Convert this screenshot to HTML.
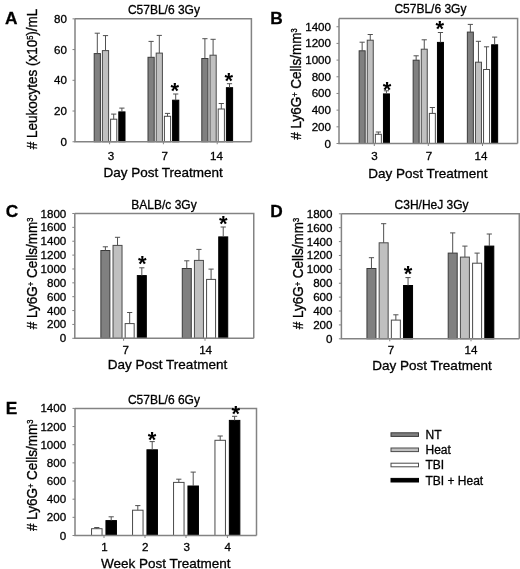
<!DOCTYPE html>
<html><head><meta charset="utf-8"><style>
html,body{margin:0;padding:0;background:#fff;}
svg{display:block;filter:grayscale(1) ;}
text{font-family:"Liberation Sans", sans-serif;fill:#000;stroke:#000;stroke-width:0.3px;}
</style></head><body>
<svg width="520" height="569" viewBox="0 0 520 569">
<rect width="520" height="569" fill="#fff"/>
<path d="M75,18.85H251.4V141.75" fill="none" stroke="#838383" stroke-width="1.5"/>
<rect x="94.20" y="53.60" width="6.20" height="88.15" fill="#808080" stroke="#3a3a3a" stroke-width="1"/>
<path d="M97.30,53.60V33.20M94.70,33.20H99.90" stroke="#505050" stroke-width="1" fill="none"/>
<rect x="102.40" y="50.60" width="6.20" height="91.15" fill="#c0c0c0" stroke="#4a4a4a" stroke-width="1"/>
<path d="M105.50,50.60V35.60M102.90,35.60H108.10" stroke="#505050" stroke-width="1" fill="none"/>
<rect x="110.60" y="119.20" width="6.20" height="22.55" fill="#ffffff" stroke="#4a4a4a" stroke-width="1"/>
<path d="M113.70,119.20V114.10M111.10,114.10H116.30" stroke="#505050" stroke-width="1" fill="none"/>
<rect x="118.80" y="111.90" width="6.20" height="29.85" fill="#000000" stroke="#000000" stroke-width="1"/>
<path d="M121.90,111.90V108.10M119.30,108.10H124.50" stroke="#505050" stroke-width="1" fill="none"/>
<rect x="148.00" y="57.30" width="6.20" height="84.45" fill="#808080" stroke="#3a3a3a" stroke-width="1"/>
<path d="M151.10,57.30V41.40M148.50,41.40H153.70" stroke="#505050" stroke-width="1" fill="none"/>
<rect x="156.20" y="53.10" width="6.20" height="88.65" fill="#c0c0c0" stroke="#4a4a4a" stroke-width="1"/>
<path d="M159.30,53.10V35.40M156.70,35.40H161.90" stroke="#505050" stroke-width="1" fill="none"/>
<rect x="164.40" y="116.30" width="6.20" height="25.45" fill="#ffffff" stroke="#4a4a4a" stroke-width="1"/>
<path d="M167.50,116.30V113.40M164.90,113.40H170.10" stroke="#505050" stroke-width="1" fill="none"/>
<rect x="172.60" y="100.20" width="6.20" height="41.55" fill="#000000" stroke="#000000" stroke-width="1"/>
<path d="M175.70,100.20V94.00M173.10,94.00H178.30" stroke="#505050" stroke-width="1" fill="none"/>
<rect x="201.80" y="58.50" width="6.20" height="83.25" fill="#808080" stroke="#3a3a3a" stroke-width="1"/>
<path d="M204.90,58.50V38.70M202.30,38.70H207.50" stroke="#505050" stroke-width="1" fill="none"/>
<rect x="210.00" y="55.20" width="6.20" height="86.55" fill="#c0c0c0" stroke="#4a4a4a" stroke-width="1"/>
<path d="M213.10,55.20V39.30M210.50,39.30H215.70" stroke="#505050" stroke-width="1" fill="none"/>
<rect x="218.20" y="109.00" width="6.20" height="32.75" fill="#ffffff" stroke="#4a4a4a" stroke-width="1"/>
<path d="M221.30,109.00V103.50M218.70,103.50H223.90" stroke="#505050" stroke-width="1" fill="none"/>
<rect x="226.40" y="87.70" width="6.20" height="54.05" fill="#000000" stroke="#000000" stroke-width="1"/>
<path d="M229.50,87.70V83.70M226.90,83.70H232.10" stroke="#505050" stroke-width="1" fill="none"/>
<path d="M75,18.85V141.75H251.4" fill="none" stroke="#838383" stroke-width="1.5"/>
<path d="M72.5,141.75H75" stroke="#838383" stroke-width="1"/>
<text x="67.00" y="145.75" text-anchor="end" font-size="11.6">0</text>
<path d="M72.5,111.03H75" stroke="#838383" stroke-width="1"/>
<text x="67.00" y="115.03" text-anchor="end" font-size="11.6">20</text>
<path d="M72.5,80.30H75" stroke="#838383" stroke-width="1"/>
<text x="67.00" y="84.30" text-anchor="end" font-size="11.6">40</text>
<path d="M72.5,49.57H75" stroke="#838383" stroke-width="1"/>
<text x="67.00" y="53.57" text-anchor="end" font-size="11.6">60</text>
<path d="M72.5,18.85H75" stroke="#838383" stroke-width="1"/>
<text x="67.00" y="22.85" text-anchor="end" font-size="11.6">80</text>
<path d="M109.60,141.75V144.25" stroke="#838383" stroke-width="1"/>
<path d="M163.40,141.75V144.25" stroke="#838383" stroke-width="1"/>
<path d="M217.20,141.75V144.25" stroke="#838383" stroke-width="1"/>
<text x="111.00" y="160.30" text-anchor="middle" font-size="11.6">3</text>
<text x="164.85" y="160.30" text-anchor="middle" font-size="11.6">7</text>
<text x="216.50" y="160.30" text-anchor="middle" font-size="11.6">14</text>
<text x="163.10" y="176.60" text-anchor="middle" font-size="13.5">Day Post Treatment</text>
<text x="163.90" y="13.50" text-anchor="middle" font-size="12">C57BL/6 3Gy</text>
<text x="4.90" y="23.90" font-size="17.3" font-weight="bold">A</text>
<text transform="translate(36.7,79) rotate(-90) scale(1,1.13)" text-anchor="middle" font-size="13.5"># Leukocytes (x10<tspan dy="-3.4" font-size="7.5">5</tspan><tspan dy="3.4">​</tspan>)/mL</text>
<text x="174.80" y="97.96" text-anchor="middle" font-size="22" font-weight="bold" style="stroke:none">*</text>
<text x="228.75" y="88.06" text-anchor="middle" font-size="22" font-weight="bold" style="stroke:none">*</text>
<path d="M339,18.4H517.6V143.5" fill="none" stroke="#838383" stroke-width="1.5"/>
<rect x="359.15" y="50.80" width="6.00" height="92.70" fill="#808080" stroke="#3a3a3a" stroke-width="1"/>
<path d="M362.15,50.80V42.20M359.55,42.20H364.75" stroke="#505050" stroke-width="1" fill="none"/>
<rect x="367.25" y="40.20" width="6.00" height="103.30" fill="#c0c0c0" stroke="#4a4a4a" stroke-width="1"/>
<path d="M370.25,40.20V34.50M367.65,34.50H372.85" stroke="#505050" stroke-width="1" fill="none"/>
<rect x="375.35" y="134.30" width="6.00" height="9.20" fill="#ffffff" stroke="#4a4a4a" stroke-width="1"/>
<path d="M378.35,134.30V132.00M375.75,132.00H380.95" stroke="#505050" stroke-width="1" fill="none"/>
<rect x="383.45" y="93.90" width="6.00" height="49.60" fill="#000000" stroke="#000000" stroke-width="1"/>
<path d="M386.45,93.90V90.80M383.85,90.80H389.05" stroke="#505050" stroke-width="1" fill="none"/>
<rect x="413.15" y="60.20" width="6.00" height="83.30" fill="#808080" stroke="#3a3a3a" stroke-width="1"/>
<path d="M416.15,60.20V55.80M413.55,55.80H418.75" stroke="#505050" stroke-width="1" fill="none"/>
<rect x="421.25" y="49.20" width="6.00" height="94.30" fill="#c0c0c0" stroke="#4a4a4a" stroke-width="1"/>
<path d="M424.25,49.20V39.80M421.65,39.80H426.85" stroke="#505050" stroke-width="1" fill="none"/>
<rect x="429.35" y="113.40" width="6.00" height="30.10" fill="#ffffff" stroke="#4a4a4a" stroke-width="1"/>
<path d="M432.35,113.40V107.50M429.75,107.50H434.95" stroke="#505050" stroke-width="1" fill="none"/>
<rect x="437.45" y="42.40" width="6.00" height="101.10" fill="#000000" stroke="#000000" stroke-width="1"/>
<path d="M440.45,42.40V32.50M437.85,32.50H443.05" stroke="#505050" stroke-width="1" fill="none"/>
<rect x="467.35" y="32.10" width="6.00" height="111.40" fill="#808080" stroke="#3a3a3a" stroke-width="1"/>
<path d="M470.35,32.10V24.40M467.75,24.40H472.95" stroke="#505050" stroke-width="1" fill="none"/>
<rect x="475.45" y="62.20" width="6.00" height="81.30" fill="#c0c0c0" stroke="#4a4a4a" stroke-width="1"/>
<path d="M478.45,62.20V41.30M475.85,41.30H481.05" stroke="#505050" stroke-width="1" fill="none"/>
<rect x="483.55" y="69.50" width="6.00" height="74.00" fill="#ffffff" stroke="#4a4a4a" stroke-width="1"/>
<path d="M486.55,69.50V46.80M483.95,46.80H489.15" stroke="#505050" stroke-width="1" fill="none"/>
<rect x="491.65" y="44.80" width="6.00" height="98.70" fill="#000000" stroke="#000000" stroke-width="1"/>
<path d="M494.65,44.80V37.10M492.05,37.10H497.25" stroke="#505050" stroke-width="1" fill="none"/>
<path d="M339,18.4V143.5H517.6" fill="none" stroke="#838383" stroke-width="1.5"/>
<path d="M336.5,143.50H339" stroke="#838383" stroke-width="1"/>
<text x="331.00" y="147.50" text-anchor="end" font-size="11.6">0</text>
<path d="M336.5,126.82H339" stroke="#838383" stroke-width="1"/>
<text x="331.00" y="130.82" text-anchor="end" font-size="11.6">200</text>
<path d="M336.5,110.14H339" stroke="#838383" stroke-width="1"/>
<text x="331.00" y="114.14" text-anchor="end" font-size="11.6">400</text>
<path d="M336.5,93.46H339" stroke="#838383" stroke-width="1"/>
<text x="331.00" y="97.46" text-anchor="end" font-size="11.6">600</text>
<path d="M336.5,76.78H339" stroke="#838383" stroke-width="1"/>
<text x="331.00" y="80.78" text-anchor="end" font-size="11.6">800</text>
<path d="M336.5,60.10H339" stroke="#838383" stroke-width="1"/>
<text x="331.00" y="64.10" text-anchor="end" font-size="11.6">1000</text>
<path d="M336.5,43.42H339" stroke="#838383" stroke-width="1"/>
<text x="331.00" y="47.42" text-anchor="end" font-size="11.6">1200</text>
<path d="M336.5,26.74H339" stroke="#838383" stroke-width="1"/>
<text x="331.00" y="30.74" text-anchor="end" font-size="11.6">1400</text>
<path d="M374.30,143.5V146.0" stroke="#838383" stroke-width="1"/>
<path d="M428.30,143.5V146.0" stroke="#838383" stroke-width="1"/>
<path d="M482.50,143.5V146.0" stroke="#838383" stroke-width="1"/>
<text x="374.40" y="160.40" text-anchor="middle" font-size="11.6">3</text>
<text x="429.00" y="160.40" text-anchor="middle" font-size="11.6">7</text>
<text x="481.00" y="160.40" text-anchor="middle" font-size="11.6">14</text>
<text x="427.90" y="177.60" text-anchor="middle" font-size="13.5">Day Post Treatment</text>
<text x="430.40" y="13.40" text-anchor="middle" font-size="12">C57BL/6 3Gy</text>
<text x="270.20" y="23.50" font-size="17.3" font-weight="bold">B</text>
<text transform="translate(300.7,84) rotate(-90) scale(1,1.13)" text-anchor="middle" font-size="13.5"># Ly6G<tspan dy="-2.2" font-size="7.5">+</tspan><tspan dy="2.2">​</tspan> Cells/mm<tspan dy="-3.4" font-size="7.5">3</tspan><tspan dy="3.4">​</tspan></text>
<text x="387.00" y="96.56" text-anchor="middle" font-size="22" font-weight="bold" style="stroke:none">*</text>
<text x="439.80" y="35.55" text-anchor="middle" font-size="22" font-weight="bold" style="stroke:none">*</text>
<path d="M74.8,213.5H253.75V338.3" fill="none" stroke="#838383" stroke-width="1.5"/>
<rect x="100.88" y="250.50" width="9.00" height="87.80" fill="#808080" stroke="#3a3a3a" stroke-width="1"/>
<path d="M105.38,250.50V246.80M102.78,246.80H107.97" stroke="#505050" stroke-width="1" fill="none"/>
<rect x="113.03" y="245.40" width="9.00" height="92.90" fill="#c0c0c0" stroke="#4a4a4a" stroke-width="1"/>
<path d="M117.53,245.40V237.30M114.93,237.30H120.12" stroke="#505050" stroke-width="1" fill="none"/>
<rect x="125.17" y="323.60" width="9.00" height="14.70" fill="#ffffff" stroke="#4a4a4a" stroke-width="1"/>
<path d="M129.68,323.60V312.50M127.08,312.50H132.28" stroke="#505050" stroke-width="1" fill="none"/>
<rect x="137.32" y="275.60" width="9.00" height="62.70" fill="#000000" stroke="#000000" stroke-width="1"/>
<path d="M141.82,275.60V267.80M139.22,267.80H144.42" stroke="#505050" stroke-width="1" fill="none"/>
<rect x="182.28" y="268.50" width="9.00" height="69.80" fill="#808080" stroke="#3a3a3a" stroke-width="1"/>
<path d="M186.78,268.50V260.80M184.18,260.80H189.38" stroke="#505050" stroke-width="1" fill="none"/>
<rect x="194.43" y="260.40" width="9.00" height="77.90" fill="#c0c0c0" stroke="#4a4a4a" stroke-width="1"/>
<path d="M198.93,260.40V249.40M196.33,249.40H201.53" stroke="#505050" stroke-width="1" fill="none"/>
<rect x="206.58" y="279.40" width="9.00" height="58.90" fill="#ffffff" stroke="#4a4a4a" stroke-width="1"/>
<path d="M211.08,279.40V269.10M208.48,269.10H213.68" stroke="#505050" stroke-width="1" fill="none"/>
<rect x="218.73" y="236.90" width="9.00" height="101.40" fill="#000000" stroke="#000000" stroke-width="1"/>
<path d="M223.23,236.90V227.00M220.63,227.00H225.83" stroke="#505050" stroke-width="1" fill="none"/>
<path d="M74.8,213.5V338.3H253.75" fill="none" stroke="#838383" stroke-width="1.5"/>
<path d="M72.3,338.30H74.8" stroke="#838383" stroke-width="1"/>
<text x="66.30" y="342.30" text-anchor="end" font-size="11.6">0</text>
<path d="M72.3,324.43H74.8" stroke="#838383" stroke-width="1"/>
<text x="66.30" y="328.43" text-anchor="end" font-size="11.6">200</text>
<path d="M72.3,310.57H74.8" stroke="#838383" stroke-width="1"/>
<text x="66.30" y="314.57" text-anchor="end" font-size="11.6">400</text>
<path d="M72.3,296.70H74.8" stroke="#838383" stroke-width="1"/>
<text x="66.30" y="300.70" text-anchor="end" font-size="11.6">600</text>
<path d="M72.3,282.83H74.8" stroke="#838383" stroke-width="1"/>
<text x="66.30" y="286.83" text-anchor="end" font-size="11.6">800</text>
<path d="M72.3,268.97H74.8" stroke="#838383" stroke-width="1"/>
<text x="66.30" y="272.97" text-anchor="end" font-size="11.6">1000</text>
<path d="M72.3,255.10H74.8" stroke="#838383" stroke-width="1"/>
<text x="66.30" y="259.10" text-anchor="end" font-size="11.6">1200</text>
<path d="M72.3,241.23H74.8" stroke="#838383" stroke-width="1"/>
<text x="66.30" y="245.23" text-anchor="end" font-size="11.6">1400</text>
<path d="M72.3,227.37H74.8" stroke="#838383" stroke-width="1"/>
<text x="66.30" y="231.37" text-anchor="end" font-size="11.6">1600</text>
<path d="M72.3,213.50H74.8" stroke="#838383" stroke-width="1"/>
<text x="66.30" y="217.50" text-anchor="end" font-size="11.6">1800</text>
<path d="M123.60,338.3V340.8" stroke="#838383" stroke-width="1"/>
<path d="M205.00,338.3V340.8" stroke="#838383" stroke-width="1"/>
<text x="125.80" y="354.40" text-anchor="middle" font-size="11.6">7</text>
<text x="205.60" y="354.40" text-anchor="middle" font-size="11.6">14</text>
<text x="167.50" y="369.40" text-anchor="middle" font-size="13.5">Day Post Treatment</text>
<text x="164.00" y="208.60" text-anchor="middle" font-size="12">BALB/c 3Gy</text>
<text x="5.80" y="216.80" font-size="17.3" font-weight="bold">C</text>
<text transform="translate(36.7,273.4) rotate(-90) scale(1,1.13)" text-anchor="middle" font-size="13.5"># Ly6G<tspan dy="-2.2" font-size="7.5">+</tspan><tspan dy="2.2">​</tspan> Cells/mm<tspan dy="-3.4" font-size="7.5">3</tspan><tspan dy="3.4">​</tspan></text>
<text x="142.20" y="271.11" text-anchor="middle" font-size="22" font-weight="bold" style="stroke:none">*</text>
<text x="223.20" y="230.56" text-anchor="middle" font-size="22" font-weight="bold" style="stroke:none">*</text>
<path d="M341.4,213.8H519.3V338.8" fill="none" stroke="#838383" stroke-width="1.5"/>
<rect x="366.95" y="268.50" width="9.00" height="70.30" fill="#808080" stroke="#3a3a3a" stroke-width="1"/>
<path d="M371.45,268.50V257.70M368.85,257.70H374.05" stroke="#505050" stroke-width="1" fill="none"/>
<rect x="379.15" y="242.80" width="9.00" height="96.00" fill="#c0c0c0" stroke="#4a4a4a" stroke-width="1"/>
<path d="M383.65,242.80V223.70M381.05,223.70H386.25" stroke="#505050" stroke-width="1" fill="none"/>
<rect x="391.35" y="320.10" width="9.00" height="18.70" fill="#ffffff" stroke="#4a4a4a" stroke-width="1"/>
<path d="M395.85,320.10V314.80M393.25,314.80H398.45" stroke="#505050" stroke-width="1" fill="none"/>
<rect x="403.55" y="285.50" width="9.00" height="53.30" fill="#000000" stroke="#000000" stroke-width="1"/>
<path d="M408.05,285.50V277.60M405.45,277.60H410.65" stroke="#505050" stroke-width="1" fill="none"/>
<rect x="448.20" y="253.10" width="9.00" height="85.70" fill="#808080" stroke="#3a3a3a" stroke-width="1"/>
<path d="M452.70,253.10V232.90M450.10,232.90H455.30" stroke="#505050" stroke-width="1" fill="none"/>
<rect x="460.40" y="257.10" width="9.00" height="81.70" fill="#c0c0c0" stroke="#4a4a4a" stroke-width="1"/>
<path d="M464.90,257.10V246.10M462.30,246.10H467.50" stroke="#505050" stroke-width="1" fill="none"/>
<rect x="472.60" y="263.20" width="9.00" height="75.60" fill="#ffffff" stroke="#4a4a4a" stroke-width="1"/>
<path d="M477.10,263.20V253.10M474.50,253.10H479.70" stroke="#505050" stroke-width="1" fill="none"/>
<rect x="484.80" y="246.10" width="9.00" height="92.70" fill="#000000" stroke="#000000" stroke-width="1"/>
<path d="M489.30,246.10V234.00M486.70,234.00H491.90" stroke="#505050" stroke-width="1" fill="none"/>
<path d="M341.4,213.8V338.8H519.3" fill="none" stroke="#838383" stroke-width="1.5"/>
<path d="M338.9,338.80H341.4" stroke="#838383" stroke-width="1"/>
<text x="332.50" y="342.80" text-anchor="end" font-size="11.6">0</text>
<path d="M338.9,324.91H341.4" stroke="#838383" stroke-width="1"/>
<text x="332.50" y="328.91" text-anchor="end" font-size="11.6">200</text>
<path d="M338.9,311.02H341.4" stroke="#838383" stroke-width="1"/>
<text x="332.50" y="315.02" text-anchor="end" font-size="11.6">400</text>
<path d="M338.9,297.13H341.4" stroke="#838383" stroke-width="1"/>
<text x="332.50" y="301.13" text-anchor="end" font-size="11.6">600</text>
<path d="M338.9,283.24H341.4" stroke="#838383" stroke-width="1"/>
<text x="332.50" y="287.24" text-anchor="end" font-size="11.6">800</text>
<path d="M338.9,269.36H341.4" stroke="#838383" stroke-width="1"/>
<text x="332.50" y="273.36" text-anchor="end" font-size="11.6">1000</text>
<path d="M338.9,255.47H341.4" stroke="#838383" stroke-width="1"/>
<text x="332.50" y="259.47" text-anchor="end" font-size="11.6">1200</text>
<path d="M338.9,241.58H341.4" stroke="#838383" stroke-width="1"/>
<text x="332.50" y="245.58" text-anchor="end" font-size="11.6">1400</text>
<path d="M338.9,227.69H341.4" stroke="#838383" stroke-width="1"/>
<text x="332.50" y="231.69" text-anchor="end" font-size="11.6">1600</text>
<path d="M338.9,213.80H341.4" stroke="#838383" stroke-width="1"/>
<text x="332.50" y="217.80" text-anchor="end" font-size="11.6">1800</text>
<path d="M389.75,338.8V341.3" stroke="#838383" stroke-width="1"/>
<path d="M471.00,338.8V341.3" stroke="#838383" stroke-width="1"/>
<text x="391.00" y="354.20" text-anchor="middle" font-size="11.6">7</text>
<text x="471.00" y="354.20" text-anchor="middle" font-size="11.6">14</text>
<text x="432.00" y="370.20" text-anchor="middle" font-size="13.5">Day Post Treatment</text>
<text x="431.60" y="208.80" text-anchor="middle" font-size="12">C3H/HeJ 3Gy</text>
<text x="270.20" y="216.80" font-size="17.3" font-weight="bold">D</text>
<text transform="translate(303.3,273.5) rotate(-90) scale(1,1.13)" text-anchor="middle" font-size="13.5"># Ly6G<tspan dy="-2.2" font-size="7.5">+</tspan><tspan dy="2.2">​</tspan> Cells/mm<tspan dy="-3.4" font-size="7.5">3</tspan><tspan dy="3.4">​</tspan></text>
<text x="408.00" y="281.06" text-anchor="middle" font-size="22" font-weight="bold" style="stroke:none">*</text>
<path d="M75,408.4H256.5V535.5" fill="none" stroke="#838383" stroke-width="1.5"/>
<rect x="91.55" y="528.70" width="10.50" height="6.80" fill="#ffffff" stroke="#4a4a4a" stroke-width="1"/>
<path d="M96.80,528.70V527.50M94.20,527.50H99.40" stroke="#505050" stroke-width="1" fill="none"/>
<rect x="105.95" y="520.60" width="10.50" height="14.90" fill="#000000" stroke="#000000" stroke-width="1"/>
<path d="M111.20,520.60V516.80M108.60,516.80H113.80" stroke="#505050" stroke-width="1" fill="none"/>
<rect x="132.55" y="510.20" width="10.50" height="25.30" fill="#ffffff" stroke="#4a4a4a" stroke-width="1"/>
<path d="M137.80,510.20V505.60M135.20,505.60H140.40" stroke="#505050" stroke-width="1" fill="none"/>
<rect x="146.95" y="449.80" width="10.50" height="85.70" fill="#000000" stroke="#000000" stroke-width="1"/>
<path d="M152.20,449.80V441.60M149.60,441.60H154.80" stroke="#505050" stroke-width="1" fill="none"/>
<rect x="173.55" y="482.40" width="10.50" height="53.10" fill="#ffffff" stroke="#4a4a4a" stroke-width="1"/>
<path d="M178.80,482.40V479.20M176.20,479.20H181.40" stroke="#505050" stroke-width="1" fill="none"/>
<rect x="187.95" y="486.00" width="10.50" height="49.50" fill="#000000" stroke="#000000" stroke-width="1"/>
<path d="M193.20,486.00V472.10M190.60,472.10H195.80" stroke="#505050" stroke-width="1" fill="none"/>
<rect x="214.95" y="440.30" width="10.50" height="95.20" fill="#ffffff" stroke="#4a4a4a" stroke-width="1"/>
<path d="M220.20,440.30V436.00M217.60,436.00H222.80" stroke="#505050" stroke-width="1" fill="none"/>
<rect x="229.35" y="420.40" width="10.50" height="115.10" fill="#000000" stroke="#000000" stroke-width="1"/>
<path d="M234.60,420.40V416.30M232.00,416.30H237.20" stroke="#505050" stroke-width="1" fill="none"/>
<path d="M75,408.4V535.5H256.5" fill="none" stroke="#838383" stroke-width="1.5"/>
<path d="M72.5,535.50H75" stroke="#838383" stroke-width="1"/>
<text x="66.20" y="539.50" text-anchor="end" font-size="11.6">0</text>
<path d="M72.5,517.34H75" stroke="#838383" stroke-width="1"/>
<text x="66.20" y="521.34" text-anchor="end" font-size="11.6">200</text>
<path d="M72.5,499.19H75" stroke="#838383" stroke-width="1"/>
<text x="66.20" y="503.19" text-anchor="end" font-size="11.6">400</text>
<path d="M72.5,481.03H75" stroke="#838383" stroke-width="1"/>
<text x="66.20" y="485.03" text-anchor="end" font-size="11.6">600</text>
<path d="M72.5,462.87H75" stroke="#838383" stroke-width="1"/>
<text x="66.20" y="466.87" text-anchor="end" font-size="11.6">800</text>
<path d="M72.5,444.71H75" stroke="#838383" stroke-width="1"/>
<text x="66.20" y="448.71" text-anchor="end" font-size="11.6">1000</text>
<path d="M72.5,426.56H75" stroke="#838383" stroke-width="1"/>
<text x="66.20" y="430.56" text-anchor="end" font-size="11.6">1200</text>
<path d="M72.5,408.40H75" stroke="#838383" stroke-width="1"/>
<text x="66.20" y="412.40" text-anchor="end" font-size="11.6">1400</text>
<path d="M104.00,535.5V538.0" stroke="#838383" stroke-width="1"/>
<path d="M145.00,535.5V538.0" stroke="#838383" stroke-width="1"/>
<path d="M186.00,535.5V538.0" stroke="#838383" stroke-width="1"/>
<path d="M227.40,535.5V538.0" stroke="#838383" stroke-width="1"/>
<text x="104.60" y="551.00" text-anchor="middle" font-size="11.6">1</text>
<text x="145.30" y="551.00" text-anchor="middle" font-size="11.6">2</text>
<text x="186.70" y="551.00" text-anchor="middle" font-size="11.6">3</text>
<text x="227.80" y="551.00" text-anchor="middle" font-size="11.6">4</text>
<text x="165.80" y="568.30" text-anchor="middle" font-size="13.5">Week Post Treatment</text>
<text x="163.90" y="403.50" text-anchor="middle" font-size="12">C57BL/6 6Gy</text>
<text x="5.70" y="413.50" font-size="17.3" font-weight="bold">E</text>
<text transform="translate(36.9,475.3) rotate(-90) scale(1,1.13)" text-anchor="middle" font-size="13.5"># Ly6G<tspan dy="-2.2" font-size="7.5">+</tspan><tspan dy="2.2">​</tspan> Cells/mm<tspan dy="-3.4" font-size="7.5">3</tspan><tspan dy="3.4">​</tspan></text>
<text x="152.00" y="446.75" text-anchor="middle" font-size="22" font-weight="bold" style="stroke:none">*</text>
<text x="235.75" y="420.95" text-anchor="middle" font-size="22" font-weight="bold" style="stroke:none">*</text>
<rect x="391" y="432.80" width="27.5" height="3.6" fill="#808080" stroke="#3a3a3a" stroke-width="1"/>
<text x="425.50" y="438.90" font-size="12">NT</text>
<rect x="391" y="448.00" width="27.5" height="3.6" fill="#c0c0c0" stroke="#4a4a4a" stroke-width="1"/>
<text x="425.50" y="454.10" font-size="12">Heat</text>
<rect x="391" y="463.20" width="27.5" height="3.6" fill="#ffffff" stroke="#4a4a4a" stroke-width="1"/>
<text x="425.50" y="469.30" font-size="12">TBI</text>
<rect x="391" y="478.40" width="27.5" height="3.6" fill="#000000" stroke="#000000" stroke-width="1"/>
<text x="425.50" y="484.50" font-size="12">TBI + Heat</text>
</svg></body></html>
